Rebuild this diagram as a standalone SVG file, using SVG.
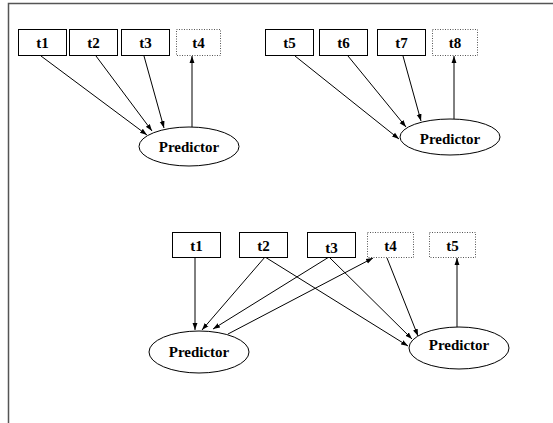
<svg xmlns="http://www.w3.org/2000/svg" width="553" height="423" viewBox="0 0 553 423">
<defs>
<marker id="ah" viewBox="0 0 10 10" refX="10" refY="5" markerWidth="7" markerHeight="7" markerUnits="userSpaceOnUse" orient="auto">
<path d="M0,1.5 L10,5 L0,8.5 Z" fill="#000"/>
</marker>
</defs>
<style>
.box{fill:#fff;stroke:#000;stroke-width:1}
.dot{fill:#fff;stroke:#555;stroke-width:1;stroke-dasharray:1,1.5}
.ell{fill:#fff;stroke:#000;stroke-width:1}
.lbl{font-family:"Liberation Serif","Times New Roman",serif;font-weight:bold;font-size:15px;text-anchor:middle;fill:#000}
.e{stroke:#000;stroke-width:1;fill:none;marker-end:url(#ah)}
</style>
<rect width="553" height="423" fill="#fff"/>
<path d="M8.5,423 L8.5,3.5 L553,3.5" fill="none" stroke="#555" stroke-width="1.5"/>
<g id="connectors">
<line class="e" x1="41" y1="56" x2="147" y2="135"/>
<line class="e" x1="96" y1="56" x2="152" y2="131"/>
<line class="e" x1="144" y1="56" x2="164" y2="128"/>
<line class="e" x1="192" y1="127" x2="192" y2="56"/>
<line class="e" x1="295" y1="56" x2="399" y2="139"/>
<line class="e" x1="348" y1="56" x2="406" y2="127"/>
<line class="e" x1="403" y1="56" x2="421" y2="121"/>
<line class="e" x1="454" y1="119" x2="454" y2="56"/>
<line class="e" x1="195" y1="257" x2="195" y2="330"/>
<line class="e" x1="265" y1="257" x2="202" y2="330"/>
<line class="e" x1="329" y1="257" x2="213" y2="329"/>
<line class="e" x1="228" y1="334" x2="373" y2="258"/>
<line class="e" x1="265" y1="257" x2="408" y2="346"/>
<line class="e" x1="329" y1="257" x2="412" y2="339"/>
<line class="e" x1="387" y1="258" x2="418" y2="336"/>
<line class="e" x1="457" y1="327" x2="457" y2="258"/>
</g>
<g id="a_t1"><rect class="box" x="18.5" y="29.5" width="48" height="26"/><text class="lbl" x="42.5" y="48">t1</text></g>
<g id="a_t2"><rect class="box" x="69.5" y="29.5" width="48" height="26"/><text class="lbl" x="93.5" y="48">t2</text></g>
<g id="a_t3"><rect class="box" x="121.5" y="29.5" width="48" height="26"/><text class="lbl" x="145.5" y="48">t3</text></g>
<g id="a_t4"><rect class="dot" x="176.5" y="29.5" width="44" height="26"/><text class="lbl" x="198.5" y="48">t4</text></g>
<g id="a_pred"><ellipse class="ell" cx="189" cy="146.5" rx="50" ry="19.5"/><text class="lbl" x="189" y="151.5">Predictor</text></g>
<g id="b_t5"><rect class="box" x="265.5" y="29.5" width="48" height="26"/><text class="lbl" x="289.5" y="48">t5</text></g>
<g id="b_t6"><rect class="box" x="319.5" y="29.5" width="48" height="26"/><text class="lbl" x="343.5" y="48">t6</text></g>
<g id="b_t7"><rect class="box" x="377.5" y="29.5" width="48" height="26"/><text class="lbl" x="401.5" y="48">t7</text></g>
<g id="b_t8"><rect class="dot" x="432.5" y="29.5" width="45" height="26"/><text class="lbl" x="455" y="48">t8</text></g>
<g id="b_pred"><ellipse class="ell" cx="450" cy="137" rx="50" ry="18"/><text class="lbl" x="450" y="144">Predictor</text></g>
<g id="c_t1"><rect class="box" x="172.5" y="232.5" width="48" height="25"/><text class="lbl" x="196.5" y="251">t1</text></g>
<g id="c_t2"><rect class="box" x="239.5" y="232.5" width="48" height="25"/><text class="lbl" x="263.5" y="251">t2</text></g>
<g id="c_t3"><rect class="box" x="307.5" y="232.5" width="48" height="25"/><text class="lbl" x="331.5" y="253">t3</text></g>
<g id="c_t4"><rect class="dot" x="367.5" y="232.5" width="46" height="25"/><text class="lbl" x="390.5" y="251">t4</text></g>
<g id="c_t5"><rect class="dot" x="429.5" y="232.5" width="46" height="25"/><text class="lbl" x="452.5" y="251">t5</text></g>
<g id="c_predL"><ellipse class="ell" cx="199" cy="352" rx="50" ry="21"/><text class="lbl" x="199" y="357">Predictor</text></g>
<g id="c_predR"><ellipse class="ell" cx="459" cy="348" rx="50" ry="21"/><text class="lbl" x="459" y="350">Predictor</text></g>
</svg>
